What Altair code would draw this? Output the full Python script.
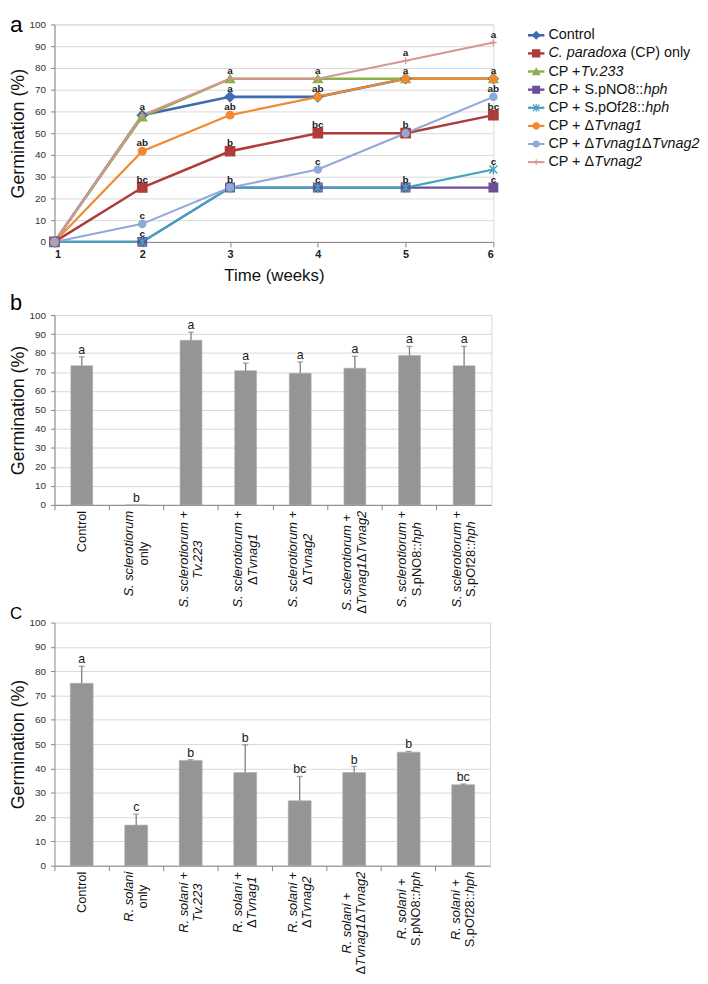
import altair as alt
import pandas as pd

FONT = "Liberation Sans"

# ---------------- Panel a data ----------------
weeks = [1, 2, 3, 4, 5, 6]
series = ["Control", "C. paradoxa (CP) only", "CP +Tv.233", "CP + S.pNO8::hph",
          "CP + S.pOf28::hph", "CP + ΔTvnag1", "CP + ΔTvnag1ΔTvnag2", "CP + ΔTvnag2"]
control = [0, 58.3, 66.7, 66.7, 75, 75]
cp_only = [0, 25, 41.7, 50, 50, 58.3]
cp_tv233 = [0, 57.5, 75, 75, 75, 75]
cp_pno8 = [0, 0, 25, 25, 25, 25]
cp_pof28 = [0, 0, 25, 25, 25, 33.3]
cp_nag1 = [0, 41.7, 58.3, 66.7, 75, 75]
cp_nag1nag2 = [0, 8.3, 25, 33.3, 50, 66.7]
cp_nag2 = [0, 58.3, 75, 75, 83.3, 91.7]

sig_a_week = [2, 2, 2, 2, 2, 3, 3, 3, 3, 3, 4, 4, 4, 4, 4, 5, 5, 5, 5, 6, 6, 6, 6, 6, 6]
sig_a_value = [58.3, 41.7, 25, 8.3, 0, 75, 66.7, 58.3, 41.7, 25, 75, 66.7, 50, 33.3, 25,
               83.3, 75, 50, 25, 91.7, 75, 66.7, 58.3, 33.3, 25]
sig_a_text = ["a", "ab", "bc", "c", "c", "a", "a", "ab", "b", "b", "a", "ab", "bc", "c", "c",
              "a", "a", "b", "b", "a", "a", "ab", "bc", "c", "c"]

legend_pieces = [
    [("Control", False)],
    [("C. paradoxa", True), (" (CP) only", False)],
    [("CP +", False), ("Tv.233", True)],
    [("CP + S.pNO8::", False), ("hph", True)],
    [("CP + S.pOf28::", False), ("hph", True)],
    [("CP + Δ", False), ("Tvnag1", True)],
    [("CP + Δ", False), ("Tvnag1", True), ("Δ", False), ("Tvnag2", True)],
    [("CP + Δ", False), ("Tvnag2", True)],
]

# ---------------- Panel b data ----------------
b_keys = ["b1", "b2", "b3", "b4", "b5", "b6", "b7", "b8"]
b_values = [73.3, 0, 86.7, 70.7, 69.3, 72.0, 78.7, 73.3]
b_upper = [78.0, 0, 91.0, 74.7, 75.3, 78.3, 83.5, 83.5]
b_sig = ["a", "b", "a", "a", "a", "a", "a", "a"]
b_labels = [
    [[("Control", False)]],
    [[("S. sclerotiorum", True)], [("only", False)]],
    [[("S. sclerotiorum", True), (" +", False)], [("Tv.223", True)]],
    [[("S. sclerotiorum", True), (" +", False)], [("Δ", False), ("Tvnag1", True)]],
    [[("S. sclerotiorum", True), (" +", False)], [("Δ", False), ("Tvnag2", True)]],
    [[("S. sclerotiorum", True), (" +", False)],
     [("Δ", False), ("Tvnag1", True), ("Δ", False), ("Tvnag2", True)]],
    [[("S. sclerotiorum", True), (" +", False)], [("S.pNO8::", False), ("hph", True)]],
    [[("S. sclerotiorum", True), (" +", False)], [("S.pOf28::", False), ("hph", True)]],
]

# ---------------- Panel c data ----------------
c_keys = ["c1", "c2", "c3", "c4", "c5", "c6", "c7", "c8"]
c_values = [75.0, 16.7, 43.3, 38.3, 26.7, 38.3, 46.7, 33.3]
c_upper = [82.0, 21.2, 43.6, 49.7, 36.7, 40.8, 47.0, 33.6]
c_sig = ["a", "c", "b", "b", "bc", "b", "b", "bc"]
c_labels = [
    [[("Control", False)]],
    [[("R. solani", True)], [("only", False)]],
    [[("R. solani", True), (" +", False)], [("Tv.223", True)]],
    [[("R. solani", True), (" +", False)], [("Δ", False), ("Tvnag1", True)]],
    [[("R. solani", True), (" +", False)], [("Δ", False), ("Tvnag2", True)]],
    [[("R. solani", True), (" +", False)],
     [("Δ", False), ("Tvnag1", True), ("Δ", False), ("Tvnag2", True)]],
    [[("R. solani", True), (" +", False)], [("S.pNO8::", False), ("hph", True)]],
    [[("R. solani", True), (" +", False)], [("S.pOf28::", False), ("hph", True)]],
]

# ---------------- helpers ----------------
AW = {' ': 278, '+': 584, '.': 278, ':': 278, '(': 333, ')': 333, '%': 889, 'Δ': 668,
      'A': 667, 'B': 667, 'C': 722, 'D': 722, 'E': 667, 'F': 611, 'G': 778, 'H': 722, 'I': 278,
      'J': 500, 'K': 667, 'L': 556, 'M': 833, 'N': 722, 'O': 778, 'P': 667, 'Q': 778, 'R': 722,
      'S': 667, 'T': 611, 'U': 722, 'V': 667, 'W': 944, 'X': 667, 'Y': 667, 'Z': 611,
      'a': 556, 'b': 556, 'c': 500, 'd': 556, 'e': 556, 'f': 278, 'g': 556, 'h': 556, 'i': 222,
      'j': 222, 'k': 500, 'l': 222, 'm': 833, 'n': 556, 'o': 556, 'p': 556, 'q': 556, 'r': 333,
      's': 500, 't': 278, 'u': 556, 'v': 500, 'w': 722, 'x': 500, 'y': 500, 'z': 500}


def tw(s, fs):
    return sum(AW.get(ch, 556) for ch in s) * fs / 1000.0


AXC = "#868686"
GRID = "#D9D9D9"
TXT = "#1a1a1a"


def y_axis():
    return alt.Axis(values=list(range(0, 101, 10)), grid=True, gridColor=GRID, tickSize=4,
                    labelFontSize=10, labelPadding=5, labelColor="#333333",
                    title="Germination (%)", titleFontSize=18, titlePadding=2,
                    titleFontWeight="normal", domainColor=AXC, tickColor=AXC)


def panel_letter(letter, x, y, fs):
    return alt.Chart(pd.DataFrame({"t": [letter]})).mark_text(
        align="left", baseline="alphabetic", font=FONT, fontSize=fs, color="black"
    ).encode(x=alt.value(x), y=alt.value(y), text="t:N")


# ---------------- Panel a ----------------
WA, HA = 444, 220
vals = [control, cp_only, cp_tv233, cp_pno8, cp_pof28, cp_nag1, cp_nag1nag2, cp_nag2]
rows = []
for s, vv in zip(series, vals):
    for w, v in zip(weeks, vv):
        rows.append({"series": s, "week": w, "value": v})
df_a = pd.DataFrame(rows)

colors = ["#3F6CB0", "#AD3C3A", "#8BAF4A", "#6B4E96", "#43A3BE", "#EF8A30", "#8FA9D8", "#D89593"]
shapes = ["diamond", "square", "triangle-up", "square",
          "M-1,-1L1,1M1,-1L-1,1M0,-1.2L0,1.2", "circle", "circle", "M-1,0L1,0M0,-1L0,1"]
sizes = [95, 45, 60, 36, 45, 18, 30, 45]
lsizes = [55, 35, 40, 30, 35, 16, 22, 35]
widths = [2.6, 2, 2, 2, 2, 2, 2, 2]

cscale = alt.Scale(domain=series, range=colors)
sscale = alt.Scale(domain=series, range=shapes)
wscale = alt.Scale(domain=series, range=widths)

xa_axis = alt.Axis(values=weeks, format="d", labelFontWeight="bold", labelFontSize=11,
                   labelColor="#222222", tickSize=5, labelPadding=2, grid=False,
                   title="Time (weeks)", titleFontSize=17, titlePadding=8,
                   titleFontWeight="normal", domainColor=AXC, tickColor=AXC)
xs_a = alt.Scale(domain=[1, 6], zero=False, nice=False)
ys_a = alt.Scale(domain=[0, 100], nice=False)

lines_a = alt.Chart(df_a).mark_line().encode(
    x=alt.X("week:Q", scale=xs_a, axis=xa_axis),
    y=alt.Y("value:Q", scale=ys_a, axis=y_axis()),
    color=alt.Color("series:N", scale=cscale, legend=None),
    strokeWidth=alt.StrokeWidth("series:N", scale=wscale, legend=None),
)
points_a = alt.Chart(df_a).mark_point(opacity=1, strokeWidth=1.4).encode(
    x=alt.X("week:Q", scale=xs_a, axis=None),
    y=alt.Y("value:Q", scale=ys_a, axis=None),
    fill=alt.Fill("series:N", scale=cscale, legend=None),
    stroke=alt.Stroke("series:N", scale=cscale, legend=None),
    shape=alt.Shape("series:N", scale=sscale, legend=None),
    size=alt.Size("series:N", scale=alt.Scale(domain=series, range=sizes), legend=None),
)
df_sig_a = pd.DataFrame({"week": sig_a_week, "value": sig_a_value, "t": sig_a_text})
sig_a = alt.Chart(df_sig_a).mark_text(
    font=FONT, fontSize=10, fontWeight="bold", baseline="middle", dy=-8, color=TXT
).encode(
    x=alt.X("week:Q", scale=xs_a, axis=None),
    y=alt.Y("value:Q", scale=ys_a, axis=None),
    text="t:N",
)

# legend (drawn by hand to allow mixed italic text)
LFS = 14.5
legx = alt.Scale(domain=[0, 100], range=[WA + 35, WA + 135], nice=False, zero=False)
legy = alt.Scale(domain=[0, 7], range=[11, 139.3], nice=False, zero=False)
df_leg = pd.DataFrame({"series": series, "idx": list(range(len(series))),
                       "x0": [0] * 8, "x1": [16.6] * 8, "xm": [8.3] * 8})
leg_rule = alt.Chart(df_leg).mark_rule().encode(
    x=alt.X("x0:Q", scale=legx, axis=None), x2="x1:Q",
    y=alt.Y("idx:Q", scale=legy, axis=None),
    color=alt.Color("series:N", scale=cscale, legend=None),
    strokeWidth=alt.StrokeWidth("series:N", scale=wscale, legend=None),
)
leg_pts = alt.Chart(df_leg).mark_point(opacity=1, strokeWidth=1.2).encode(
    x=alt.X("xm:Q", scale=legx, axis=None),
    y=alt.Y("idx:Q", scale=legy, axis=None),
    fill=alt.Fill("series:N", scale=cscale, legend=None),
    stroke=alt.Stroke("series:N", scale=cscale, legend=None),
    shape=alt.Shape("series:N", scale=sscale, legend=None),
    size=alt.Size("series:N", scale=alt.Scale(domain=series, range=lsizes), legend=None),
)
leg_rows = []
for i, pieces in enumerate(legend_pieces):
    before = 0.0
    for text, ital in pieces:
        st = text.lstrip(" ")
        lead = tw(text[:len(text) - len(st)], LFS)
        leg_rows.append({"idx": i, "x": 20.7 + before + lead, "text": st, "italic": ital})
        before += tw(text, LFS)
df_legt = pd.DataFrame(leg_rows)
leg_texts = []
for ital in (False, True):
    sub = df_legt[df_legt["italic"] == ital]
    leg_texts.append(alt.Chart(sub).mark_text(
        align="left", baseline="middle", font=FONT, fontSize=LFS,
        fontStyle="italic" if ital else "normal", color="#111111"
    ).encode(
        x=alt.X("x:Q", scale=legx, axis=None),
        y=alt.Y("idx:Q", scale=legy, axis=None),
        text="text:N",
    ))

panel_a = alt.layer(
    lines_a, points_a, sig_a, leg_rule, leg_pts, *leg_texts,
    panel_letter("a", -45, 8, 23)
).resolve_scale(x="independent", y="independent", size="independent").properties(
    width=WA, height=HA)


# ---------------- bar panels ----------------
def bar_panel(keys, values, upper, sig, labels, W, H, top, bar_frac, lfs, lh, letter, lx, ly, lfs_letter,
              border=False):
    df = pd.DataFrame({"key": keys, "value": values, "upper": upper, "sig": sig})
    xs = alt.Scale(domain=keys, paddingInner=0, paddingOuter=0)
    x_axis = alt.Axis(labels=False, title=None, bandPosition=0, tickSize=5, grid=False,
                      domainColor=AXC, tickColor=AXC)
    xenc = alt.X("key:N", scale=xs, sort=keys, axis=x_axis)
    ys = alt.Scale(domain=[0, 100], range=[H, top], nice=False)

    bars = alt.Chart(df).mark_bar(width=alt.RelativeBandSize(bar_frac), color="#959595",
                                  stroke="#ADADAD", strokeWidth=0.6).encode(
        x=xenc, y=alt.Y("value:Q", scale=ys, axis=y_axis()))
    err = alt.Chart(df).transform_filter("datum.upper > datum.value").mark_rule(
        color="#7F7F7F", strokeWidth=1.3).encode(
        x=xenc, y=alt.Y("value:Q", scale=ys, axis=None), y2="upper:Q")
    cap = alt.Chart(df).transform_filter("datum.upper > datum.value").mark_tick(
        color="#7F7F7F", thickness=1.3, size=6).encode(
        x=xenc, y=alt.Y("upper:Q", scale=ys, axis=None))
    sigt = alt.Chart(df).mark_text(font=FONT, fontSize=12.5, baseline="middle", dy=-7,
                                   color=TXT).encode(
        x=xenc, y=alt.Y("upper:Q", scale=ys, axis=None), text="sig:N")

    # category labels (rotated, multi-line, mixed italic)
    gap = 6
    lrows = []
    for key, lines in zip(keys, labels):
        lw = [tw("".join(t for t, _ in line), lfs) for line in lines]
        maxw = max(lw)
        n = len(lines)
        for j, (line, w) in enumerate(zip(lines, lw)):
            k = j - (n - 1) / 2.0
            start = gap + (maxw + w) / 2.0
            before = 0.0
            for text, ital in line:
                st = text.lstrip(" ")
                lead = tw(text[:len(text) - len(st)], lfs)
                lrows.append({"key": key, "text": st.rstrip(" "), "italic": ital, "k": k,
                              "dist": start - before - lead})
                before += tw(text, lfs)
    dfl = pd.DataFrame(lrows)
    dscale = alt.Scale(domain=[0, 200], range=[H, H + 200], nice=False, zero=False)
    label_layers = []
    for ital in (False, True):
        for k in sorted(dfl["k"].unique()):
            sub = dfl[(dfl["italic"] == ital) & (dfl["k"] == k)]
            if len(sub) == 0:
                continue
            label_layers.append(alt.Chart(sub).mark_text(
                angle=270, align="left", baseline="middle", dy=float(k * lh), font=FONT,
                fontSize=lfs, fontStyle="italic" if ital else "normal", color="#111111"
            ).encode(
                x=xenc,
                y=alt.Y("dist:Q", scale=dscale, axis=None),
                text="text:N",
            ))
    layers = [bars, err, cap, sigt] + label_layers + [panel_letter(letter, lx, ly, lfs_letter)]
    if border:
        layers.append(alt.Chart(pd.DataFrame({"v": [0]})).mark_rule(color=GRID).encode(
            x=alt.value(W), y=alt.value(top), y2=alt.value(H)))
    ch = alt.layer(*layers).resolve_scale(y="independent").properties(width=W, height=H)
    if border:
        ch = ch.properties(view=alt.ViewBackground(stroke="transparent"))
    return ch


panel_b = bar_panel(b_keys, b_values, b_upper, b_sig, b_labels, 442, 192, 0, 0.4, 13, 15,
                    "b", -45, -5, 22)
panel_c = bar_panel(c_keys, c_values, c_upper, c_sig, c_labels, 441, 291, 45, 0.42, 13, 14,
                    "C", -45, 41, 17, border=True)

chart = alt.vconcat(panel_a, panel_b, panel_c, spacing=74, bounds="flush").properties(
    padding=0
).configure_view(stroke=GRID).configure_axis(labelFont=FONT, titleFont=FONT, titleColor="#111111")

chart.save("out.html", embed_options={"renderer": "svg", "actions": False})
